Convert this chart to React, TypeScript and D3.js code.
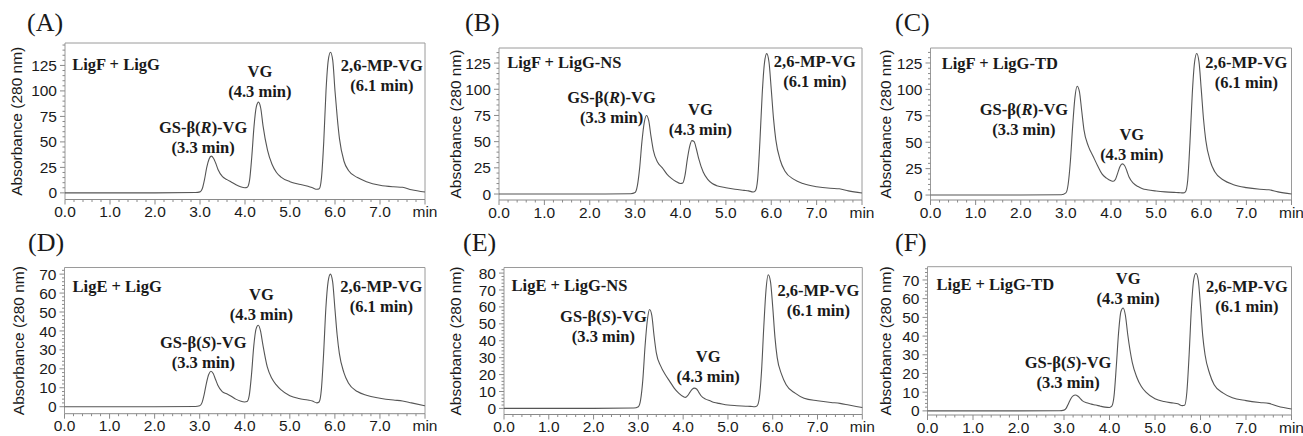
import React from "react";
import * as d3 from "d3";

// ---------- DATA ----------
const TIMES = [0, 1.0, 2.0, 2.9, 3.0, 3.05, 3.1, 3.15, 3.2, 3.25, 3.3, 3.35, 3.4, 3.5, 3.6, 3.7, 3.8, 3.9, 4.0, 4.05, 4.1, 4.15, 4.2, 4.25, 4.3, 4.35, 4.4, 4.5, 4.6, 4.7, 4.8, 5.0, 5.2, 5.4, 5.5, 5.6, 5.65, 5.7, 5.75, 5.8, 5.85, 5.9, 5.95, 6.0, 6.05, 6.1, 6.2, 6.3, 6.5, 6.7, 7.0, 7.3, 7.5, 7.7, 8.0];

const ABS_A = [0, 0, 0, 0.3, 1, 4, 13, 25, 33, 36, 34, 29, 23, 16, 13, 10.5, 8, 6, 5, 5.5, 12, 35, 65, 84, 89, 83, 66, 42, 28, 20, 15.5, 11, 8.5, 6.5, 5, 3.5, 4, 15, 50, 100, 130, 138, 130, 100, 74, 53, 31, 22, 15, 11, 7.5, 6, 5.5, 3, 0.8];
const ABS_B = [0, 0, 0, 0.3, 1.5, 8, 25, 50, 68, 75, 70, 55, 42, 30, 25, 19, 15, 12, 10, 10.5, 18, 33, 45, 51, 50, 43, 34, 21, 14, 10, 8, 6, 4.5, 3.5, 3, 2, 3, 14, 50, 95, 125, 134, 126, 100, 72, 52, 32, 22, 14, 10, 7, 5.5, 5, 3, 1];
const ABS_C = [0, 0, 0, 0.3, 2, 10, 32, 65, 92, 103, 98, 80, 62, 46, 37, 28, 20, 16, 13.5, 13, 15, 21, 27, 29.5, 28, 23, 17, 11, 8, 6, 5, 3.8, 3, 2.5, 2.3, 2, 3, 14, 50, 95, 125, 134, 126, 100, 72, 52, 32, 22, 14, 10, 7, 5.5, 5, 3, 1];
const ABS_D = [0, 0, 0, 0.1, 0.5, 2, 6.5, 12.5, 17, 18.7, 17.5, 14.5, 11.5, 8, 6.8, 5.5, 4, 3, 2.5, 2.7, 6, 17, 32, 41, 43, 40, 33, 21, 15, 11.5, 9, 5.8, 4.3, 3.5, 3, 2, 2.5, 9, 28, 52, 66, 70, 66, 52, 38, 28, 18, 12.5, 8, 6, 4.5, 3.5, 3, 2, 0.5];
const ABS_E = [0, 0, 0, 0.2, 1, 5, 17, 37, 52, 58.5, 55, 43, 33, 25, 20, 16, 12, 9, 7, 6.5, 7.5, 9.5, 11.3, 12, 11.5, 9.5, 7.5, 5.5, 4.5, 3.5, 3, 2, 1.6, 1.3, 1.2, 1, 1.5, 6, 22, 48, 70, 79, 75, 60, 42, 30, 20, 14, 9, 6, 4.5, 3.5, 3, 2, 0.5];
const ABS_F = [0, 0, 0, 0.1, 0.4, 1.5, 4, 6.5, 8, 8.5, 8, 6.8, 5.5, 4.3, 3.6, 3.1, 2.5, 2, 1.8, 2.5, 8, 24, 42, 53, 55, 51, 41, 26, 18, 13, 10, 6.5, 5, 4.2, 3.8, 2.8, 3, 10, 30, 55, 70, 73.6, 70, 56, 40, 30, 20, 14, 9.5, 7, 5.5, 4.5, 4, 2.5, 1];

const X_TICKS = [0, 1, 2, 3, 4, 5, 6, 7];
const X_TICK_LABELS = ["0.0", "1.0", "2.0", "3.0", "4.0", "5.0", "6.0", "7.0"];
const X_UNIT = "min";
const Y_TICKS_TOP = [0, 25, 50, 75, 100, 125];
const Y_TICKS_D = [0, 10, 20, 30, 40, 50, 60, 70];
const Y_TICKS_E = [0, 10, 20, 30, 40, 50, 60, 70, 80];
const Y_TICKS_F = [0, 10, 20, 30, 40, 50, 60, 70];
const Y_TITLE = "Absorbance (280 nm)";
const PANEL_LETTERS = ["(A)", "(B)", "(C)", "(D)", "(E)", "(F)"];
const CONDITIONS = ["LigF + LigG", "LigF + LigG-NS", "LigF + LigG-TD", "LigE + LigG", "LigE + LigG-NS", "LigE + LigG-TD"];
const STEREO = ["R", "R", "R", "S", "S", "S"];
const VG_NAME = "VG";
const MP_NAME = "2,6-MP-VG";
const GS_TIME = "(3.3 min)";
const VG_TIME = "(4.3 min)";
const MP_TIME = "(6.1 min)";

const SERIES = [ABS_A, ABS_B, ABS_C, ABS_D, ABS_E, ABS_F];
const Y_TICKS = [Y_TICKS_TOP, Y_TICKS_TOP, Y_TICKS_TOP, Y_TICKS_D, Y_TICKS_E, Y_TICKS_F];

// ---------- LAYOUT ----------
type Layout = {
  left: number; right: number; top: number; bottom: number;
  yMin: number; yMax: number; minor: number;
  letterX: number; letterY: number; titleX: number;
  cond: [number, number]; gs: [number, number]; vg: [number, number]; mp: [number, number];
};

const LAYOUTS: Layout[] = [
  { left: 65, right: 425, top: 43, bottom: 199.5, yMin: -6.5, yMax: 147, minor: 5, letterX: 27, letterY: 31, titleX: 16,
    cond: [0.16, 120.8], gs: [3.07, 58.8], vg: [4.33, 114], mp: [7.04, 119.8] },
  { left: 499, right: 862, top: 48, bottom: 200, yMin: -5.7, yMax: 139.4, minor: 5, letterX: 465, letterY: 31, titleX: 455,
    cond: [0.18, 120], gs: [2.48, 86.8], vg: [4.44, 75.6], mp: [6.96, 120.9] },
  { left: 930.5, right: 1291.5, top: 48, bottom: 200, yMin: -4.7, yMax: 139.2, minor: 5, letterX: 895, letterY: 31, titleX: 885,
    cond: [0.25, 119.2], gs: [2.07, 75.9], vg: [4.46, 52.2], mp: [7.0, 120.2] },
  { left: 64.5, right: 425, top: 267.5, bottom: 413.7, yMin: -3.7, yMax: 73.5, minor: 2, letterX: 28, letterY: 251, titleX: 18,
    cond: [0.18, 60.7], gs: [3.08, 31.2], vg: [4.37, 56.3], mp: [7.03, 60.3] },
  { left: 504, right: 862.3, top: 267.5, bottom: 414.5, yMin: -3.6, yMax: 83.3, minor: 2, letterX: 463, letterY: 251, titleX: 455,
    cond: [0.17, 69.3], gs: [2.22, 50.8], vg: [4.56, 27.2], mp: [7.02, 66.6] },
  { left: 927.5, right: 1291.5, top: 266.7, bottom: 415, yMin: -2.2, yMax: 77.1, minor: 2, letterX: 895, letterY: 251, titleX: 885,
    cond: [0.2, 64.7], gs: [3.09, 23.1], vg: [4.41, 67.7], mp: [7.02, 63.6] },
];

const SANS = "'Liberation Sans', Arial, Helvetica, sans-serif";
const SERIF = "'Liberation Serif', 'Times New Roman', Times, serif";
const FRAME = "#9a9a9a";
const AXIS = "#8a8a8a";
const LINE = "#555555";
const TEXT = "#1a1a1a";
const LINE_GAP = 20;
const X_LABEL_OFFSET = 17.5;

function Panel({ idx }: { idx: number }) {
  const L = LAYOUTS[idx];
  const values = SERIES[idx];
  const x = d3.scaleLinear().domain([0, 8]).range([L.left, L.right]);
  const y = d3.scaleLinear().domain([L.yMin, L.yMax]).range([L.bottom, L.top]);
  const pts: [number, number][] = TIMES.map((t, i) => [t, values[i]]);
  const line = d3.line<[number, number]>().x((d) => x(d[0])).y((d) => y(d[1])).curve(d3.curveMonotoneX);
  const yTicks = Y_TICKS[idx];
  const minorY = d3.range(0, L.yMax + 0.001, L.minor).filter((v) => !yTicks.includes(v));
  const minorX = d3.range(0, 8.001, 0.2).map((v) => Math.round(v * 10) / 10).filter((v) => Math.abs(v - Math.round(v)) > 0.01);
  const midY = (L.top + L.bottom) / 2;

  const label2 = (pos: [number, number], first: React.ReactNode, second: string, anchor = "middle") => (
    <text x={x(pos[0])} y={y(pos[1])} textAnchor={anchor} fontFamily={SERIF} fontWeight="bold" fontSize={16.5} fill={TEXT}>
      <tspan>{first}</tspan>
      <tspan x={x(pos[0])} dy={LINE_GAP}>{second}</tspan>
    </text>
  );

  return (
    <g>
      <text x={L.letterX} y={L.letterY} fontFamily={SERIF} fontSize={26} fill={TEXT}>{PANEL_LETTERS[idx]}</text>
      {/* frame */}
      <path d={`M${L.left},${L.bottom}V${L.top}H${L.right}V${L.bottom}`} fill="none" stroke={FRAME} strokeWidth={1} />
      <line x1={L.left} x2={L.right} y1={L.bottom} y2={L.bottom} stroke={AXIS} strokeWidth={1} />
      {/* x ticks */}
      {X_TICKS.map((t, i) => (
        <g key={"xt" + t}>
          <line x1={x(t)} x2={x(t)} y1={L.bottom} y2={L.bottom + 5} stroke={AXIS} />
          <text x={x(t)} y={L.bottom + X_LABEL_OFFSET} textAnchor="middle" fontFamily={SANS} fontSize={15.5} fill={TEXT}>{X_TICK_LABELS[i]}</text>
        </g>
      ))}
      <line x1={x(8)} x2={x(8)} y1={L.bottom} y2={L.bottom + 5} stroke={AXIS} />
      <text x={x(8)} y={L.bottom + X_LABEL_OFFSET} textAnchor="middle" fontFamily={SANS} fontSize={15.5} fill={TEXT}>{X_UNIT}</text>
      {minorX.map((t) => (
        <line key={"xm" + t} x1={x(t)} x2={x(t)} y1={L.bottom} y2={L.bottom + 2.5} stroke={AXIS} />
      ))}
      {/* y ticks */}
      {yTicks.map((v) => (
        <g key={"yt" + v}>
          <line x1={L.left - 5} x2={L.left} y1={y(v)} y2={y(v)} stroke={AXIS} />
          <text x={L.left - 8} y={y(v)} dy="0.36em" textAnchor="end" fontFamily={SANS} fontSize={15.5} fill={TEXT}>{v}</text>
        </g>
      ))}
      {minorY.map((v) => (
        <line key={"ym" + v} x1={L.left - 2.5} x2={L.left} y1={y(v)} y2={y(v)} stroke={AXIS} />
      ))}
      <text transform={`translate(${L.titleX},${midY}) rotate(-90)`} dy="0.36em" textAnchor="middle" fontFamily={SANS} fontSize={15.5} fill={TEXT}>{Y_TITLE}</text>
      {/* trace */}
      <path d={line(pts) || ""} fill="none" stroke={LINE} strokeWidth={1.1} />
      {/* annotations */}
      <text x={x(L.cond[0])} y={y(L.cond[1])} fontFamily={SERIF} fontWeight="bold" fontSize={16.5} fill={TEXT}>{CONDITIONS[idx]}</text>
      {label2(L.gs, <>GS-β(<tspan fontStyle="italic">{STEREO[idx]}</tspan>)-VG</>, GS_TIME)}
      {label2(L.vg, VG_NAME, VG_TIME)}
      {label2(L.mp, MP_NAME, MP_TIME)}
    </g>
  );
}

export default function App() {
  return (
    <svg width={1303} height={436} style={{ display: "block", position: "absolute", left: 0, top: 0, background: "#fff" }}>
      <rect width={1303} height={436} fill="#fff" />
      {LAYOUTS.map((_, i) => <Panel key={i} idx={i} />)}
    </svg>
  );
}
